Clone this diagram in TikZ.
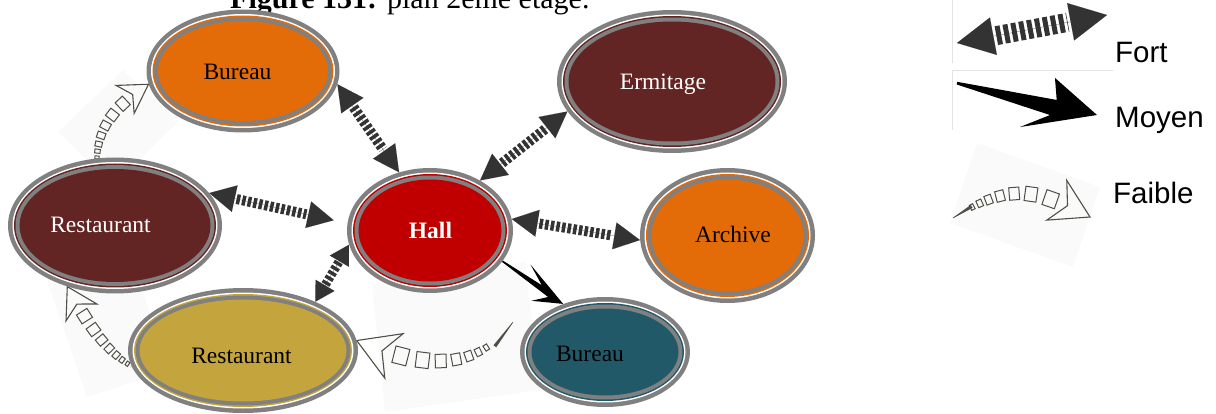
\documentclass[tikz,border=0pt]{standalone}
\usepackage{fontspec}
\setmainfont{Liberation Serif}
\newfontfamily\legendfont{Liberation Sans}
\usetikzlibrary{arrows.meta,calc,decorations.markings,backgrounds,shapes.geometric}

\definecolor{ringgray}{HTML}{808080}
\definecolor{orangeA}{HTML}{E36C09}
\definecolor{maroonA}{HTML}{632523}
\definecolor{hallred}{HTML}{C00000}
\definecolor{goldA}{HTML}{C4A43C}
\definecolor{tealB}{HTML}{215968}
\definecolor{fortgray}{HTML}{333333}
\definecolor{faibleink}{HTML}{4F4F45}
\definecolor{haze}{HTML}{FAFAFA}
\definecolor{framegray}{HTML}{E3E3E3}

\def\fsc{1}
\def\fspk{0}

\tikzset{
  ringshape/.style={ellipse, inner sep=0pt, fill=ringgray, draw=none},
  lbl/.style={anchor=base, inner sep=0pt, font=\fontsize{23.5}{28}\selectfont},
  legendtext/.style={anchor=base west, inner sep=0pt, font=\legendfont\fontsize{29.5}{34}\selectfont},
  fortshaft/.style={draw=fortgray, line width=10pt, dash pattern=on 3.5pt off 2.2pt},
  forttips/.style={draw=fortgray, fill=fortgray, line width=0.01pt,
    {Triangle[length=26pt,width=27pt]}-{Triangle[length=26pt,width=27pt]}},
  fsq/.style={draw=faibleink, line width=1pt},
  fhead/.style={draw=faibleink, line width=1.1pt, line join=miter},
  fscale/.code={\def\fsc{#1}},
  fspike/.code={\def\fspk{#1}},
  faible/.style={decoration={markings,
    mark=at position 0 with {\fill[faibleink] (0pt,0.3pt) -- (\fspk pt,1.7pt) -- (\fspk pt,-1.7pt) -- (0pt,-0.3pt) -- cycle;},
    mark=at position {-104pt*\fsc} with {\draw[fsq] ({-1.6pt*\fsc},{-2.3pt*\fsc}) rectangle ({1.6pt*\fsc},{2.3pt*\fsc});},
    mark=at position {-97pt*\fsc} with {\draw[fsq] ({-2.2pt*\fsc},{-3pt*\fsc}) rectangle ({2.2pt*\fsc},{3pt*\fsc});},
    mark=at position {-89pt*\fsc} with {\draw[fsq] ({-2.8pt*\fsc},{-3.8pt*\fsc}) rectangle ({2.8pt*\fsc},{3.8pt*\fsc});},
    mark=at position {-79pt*\fsc} with {\draw[fsq] ({-3.5pt*\fsc},{-4.5pt*\fsc}) rectangle ({3.5pt*\fsc},{4.5pt*\fsc});},
    mark=at position {-67pt*\fsc} with {\draw[fsq] ({-4.2pt*\fsc},{-5.2pt*\fsc}) rectangle ({4.2pt*\fsc},{5.2pt*\fsc});},
    mark=at position {-53pt*\fsc} with {\draw[fsq] ({-5pt*\fsc},{-6pt*\fsc}) rectangle ({5pt*\fsc},{6pt*\fsc});},
    mark=at position {-36pt*\fsc} with {\draw[fsq] ({-5.5pt*\fsc},{-6.5pt*\fsc}) rectangle ({5.5pt*\fsc},{6.5pt*\fsc});},
    mark=at position {-3pt} with {\draw[fhead]
      (3pt,0pt) -- ({3pt-31pt*\fsc},{18.5pt*\fsc}) -- ({3pt-21pt*\fsc},0pt) -- ({3pt-31pt*\fsc},{-18.5pt*\fsc}) -- cycle;}
  }, postaction={decorate}}
}

% a place: outer grey ring, white gap, thin coloured ring, grey ring, filled core
\newcommand{\ringnode}[6]{%
  \node[ringshape, minimum width={2*#4pt}, minimum height={2*#5pt}] (#1) at (#2,#3) {};
  \fill[white] (#1.center) ellipse [x radius=#4pt-4.5pt, y radius=#5pt-4.5pt];
  \fill[#6] (#1.center) ellipse [x radius=#4pt-6pt, y radius=#5pt-6pt];
  \fill[ringgray] (#1.center) ellipse [x radius=#4pt-7.5pt, y radius=#5pt-7.5pt];
  \fill[#6] (#1.center) ellipse [x radius=#4pt-11.5pt, y radius=#5pt-11.5pt];
}

\begin{document}
\begin{tikzpicture}[x=1pt, y=-1pt]
\useasboundingbox (0,0) rectangle (1216,414);
\clip (0,0) rectangle (1216,414);

\node[anchor=base west, inner sep=0pt, font=\fontsize{30}{36}\selectfont] (title) at (230,8.5)
  {\textbf{Figure 131:} plan 2ème étage.};

% places
\ringnode{bureauA}{243}{71}{96.5}{61.5}{orangeA}
\ringnode{ermitage}{672}{81.5}{115}{71.5}{maroonA}
\ringnode{restA}{115}{225.5}{107}{68}{maroonA}
\ringnode{hall}{430}{230.5}{83}{62.5}{hallred}
\ringnode{archive}{727.5}{235.5}{87.5}{67.5}{orangeA}
\ringnode{gold}{243}{350.5}{115}{62.5}{goldA}
\ringnode{bureauB}{605}{352}{85}{55}{tealB}

\node[lbl] (bureauA-t) at (237.5,80) {Bureau};
\node[lbl, text=white] (ermitage-t) at (663,90) {Ermitage};
\node[lbl, text=white] (restA-t) at (100.5,233) {Restaurant};
\node[lbl, text=white] (hall-t) at (430.5,239) {\textbf{Hall}};
\node[lbl] (archive-t) at (733,243) {Archive};
\node[lbl] (gold-t) at (241.5,363) {Restaurant};
\node[lbl] (bureauB-t) at (590,361) {Bureau};

% strong links
\draw[forttips] (bureauA.-8) -- (hall.118);
\draw[fortshaft, shorten <=28pt, shorten >=28pt] (bureauA.-8) -- (hall.118);
\draw[forttips] (hall.45) -- (ermitage.196);
\draw[fortshaft, shorten <=28pt, shorten >=28pt] (hall.45) -- (ermitage.196);
\draw[forttips, shorten >=14pt] (restA.19) -- (hall.175);
\draw[fortshaft, shorten <=28pt, shorten >=42pt] (restA.19) -- (hall.175);
\draw[forttips] (hall.8) -- (archive.183);
\draw[fortshaft, shorten <=28pt, shorten >=28pt] (hall.8) -- (archive.183);
\draw[forttips, {Triangle[length=19pt,width=22pt]}-{Triangle[length=19pt,width=22pt]}] (hall.190) -- (gold.34);
\draw[fortshaft, line width=9pt, shorten <=20pt, shorten >=20pt] (hall.190) -- (gold.34);

% medium link
\coordinate (m1) at (hall.-23);
\coordinate (m2) at (bureauB.131);
\fill[black] ($(m1)!0!(m2)!0.8pt!90:(m2)$) -- ($(m1)!0.62!(m2)!3pt!90:(m2)$)
  -- ($(m1)!0.334!(m2)!13.4pt!90:(m2)$) -- (m2)
  -- ($(m1)!0.626!(m2)!15.7pt!-90:(m2)$) -- ($(m1)!0.78!(m2)!3pt!-90:(m2)$)
  -- ($(m1)!0!(m2)!0.8pt!-90:(m2)$) -- cycle;

% weak links, behind the places
\begin{pgfonlayer}{background}
  \fill[haze] (58,132) -- (123,70) -- (178,122) -- (113,185) -- cycle;
  \fill[haze] (47,280) -- (130,255) -- (170,370) -- (87,397) -- cycle;
  \fill[haze] (372,285) -- (525,262) -- (540,390) -- (385,412) -- cycle;
  \fill[haze] (977,143) -- (1100,187) -- (1073,267) -- (950,223) -- cycle;
  \path[faible, fscale=0.9, fspike=0] (restA.105) .. controls +(1,-30) and +(-35,22) .. (bureauA.188);
  \path[faible, fscale=0.95, fspike=0] (gold.188) .. controls +(-26,-15) and +(19,35) .. (restA.232);
  \path[faible, fscale=1.3, fspike=30] ([xshift=-16pt,yshift=5pt]bureauB.162) .. controls +(-42,56) and +(55,23) .. (gold.5);
\end{pgfonlayer}

% legend
\draw[framegray, line width=0.8pt] (952,0) -- (952,63);
\draw[framegray, line width=0.8pt] (952,130) -- (952,70) -- (1113,70);

\coordinate (lfa) at (957,43);
\coordinate (lfb) at (1107,15);
\draw[forttips, {Triangle[length=37pt,width=38pt]}-{Triangle[length=37pt,width=38pt]}] (lfa) -- (lfb);
\draw[fortshaft, line width=19pt, dash pattern=on 5pt off 3pt, shorten <=40pt, shorten >=40pt] (lfa) -- (lfb);
\node[legendtext] (fort-t) at (1115,63) {Fort};

\coordinate (lm1) at (957,83);
\coordinate (lm2) at (1097,115);
\fill[black] ($(lm1)!0!(lm2)!1.2pt!90:(lm2)$) -- ($(lm1)!0.703!(lm2)!5.7pt!90:(lm2)$)
  -- ($(lm1)!0.657!(lm2)!26.8pt!90:(lm2)$) -- (lm2)
  -- ($(lm1)!0.496!(lm2)!28.9pt!-90:(lm2)$) -- ($(lm1)!0.681!(lm2)!10.5pt!-90:(lm2)$)
  -- ($(lm1)!0!(lm2)!1.5pt!-90:(lm2)$) -- cycle;
\node[legendtext] (moyen-t) at (1115,128) {Moyen};

\coordinate (lf1) at (953,218);
\coordinate (lf2) at (1090,217);
\path[faible, fscale=1.2, fspike=22] (lf1) .. controls +(59.5,-37) and +(-53.4,-27) .. (lf2);
\node[legendtext] (faible-t) at (1113,204) {Faible};
\end{tikzpicture}
\end{document}
